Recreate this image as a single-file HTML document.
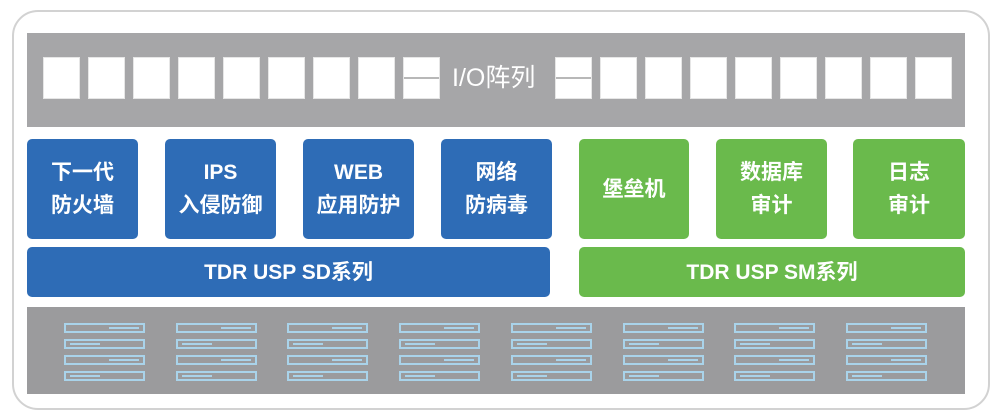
<!DOCTYPE html>
<html><head><meta charset="utf-8"><style>
body{margin:0;width:1000px;height:419px;background:#fff;position:relative;overflow:hidden;font-family:"Liberation Sans","Noto Sans CJK SC",sans-serif}
div{position:absolute;box-sizing:border-box}
.frame{left:12px;top:10px;width:978px;height:400px;border:2px solid #d2d2d2;border-radius:26px}
.g{background:#a6a6a8}
.sq{top:57px;width:37px;height:42px;background:#fff;border:1px solid #e6e6e6}
.sp:after{content:"";position:absolute;left:0;right:0;top:19px;height:2px;background:#b8b8b8}
.b{background:#2e6cb6;border-radius:5px;color:#fff;font-weight:bold;font-size:21px;display:flex;align-items:center;justify-content:center;text-align:center;line-height:33px}
.gr{background:#6aba4c}
.srv{width:81px;height:10px;border:2px solid #a9d3ea}
.srv i{position:absolute;top:2px;height:2px;width:30px;background:#a9d3ea}
</style></head><body>
<div class="frame"></div>
<div class="g" style="left:27px;top:33px;width:938px;height:94px"></div>
<div class="sq" style="left:43px"></div><div class="sq" style="left:88px"></div><div class="sq" style="left:133px"></div><div class="sq" style="left:178px"></div><div class="sq" style="left:223px"></div><div class="sq" style="left:268px"></div><div class="sq" style="left:313px"></div><div class="sq" style="left:358px"></div><div class="sq sp" style="left:403px"></div>
<div style="left:452px;top:62px;color:#fff;font-size:25px;line-height:32px">I/O阵列</div>
<div class="sq sp" style="left:555px"></div><div class="sq" style="left:600px"></div><div class="sq" style="left:645px"></div><div class="sq" style="left:690px"></div><div class="sq" style="left:735px"></div><div class="sq" style="left:780px"></div><div class="sq" style="left:825px"></div><div class="sq" style="left:870px"></div><div class="sq" style="left:915px"></div>
<div class="b" style="left:27px;top:139px;width:111px;height:100px">下一代<br>防火墙</div>
<div class="b" style="left:165px;top:139px;width:111px;height:100px">IPS<br>入侵防御</div>
<div class="b" style="left:303px;top:139px;width:111px;height:100px">WEB<br>应用防护</div>
<div class="b" style="left:441px;top:139px;width:111px;height:100px">网络<br>防病毒</div>
<div class="b gr" style="left:579px;top:139px;width:110px;height:100px">堡垒机</div>
<div class="b gr" style="left:716px;top:139px;width:111px;height:100px">数据库<br>审计</div>
<div class="b gr" style="left:853px;top:139px;width:112px;height:100px">日志<br>审计</div>
<div class="b" style="left:27px;top:247px;width:523px;height:50px">TDR USP SD系列</div>
<div class="b gr" style="left:579px;top:247px;width:386px;height:50px">TDR USP SM系列</div>
<div style="left:27px;top:307px;width:938px;height:87px;background:#9b9b9d"></div>
<div id="s"></div>
<script>
var h='';for(var k=0;k<8;k++){var x=64+k*111.7;[323,339,355,371].forEach(function(y,j){h+='<div class="srv" style="left:'+x+'px;top:'+y+'px"><i style="'+(j%2?'left:4px':'right:4px')+'"></i></div>';});}
document.getElementById('s').outerHTML=h;
</script>
</body></html>
